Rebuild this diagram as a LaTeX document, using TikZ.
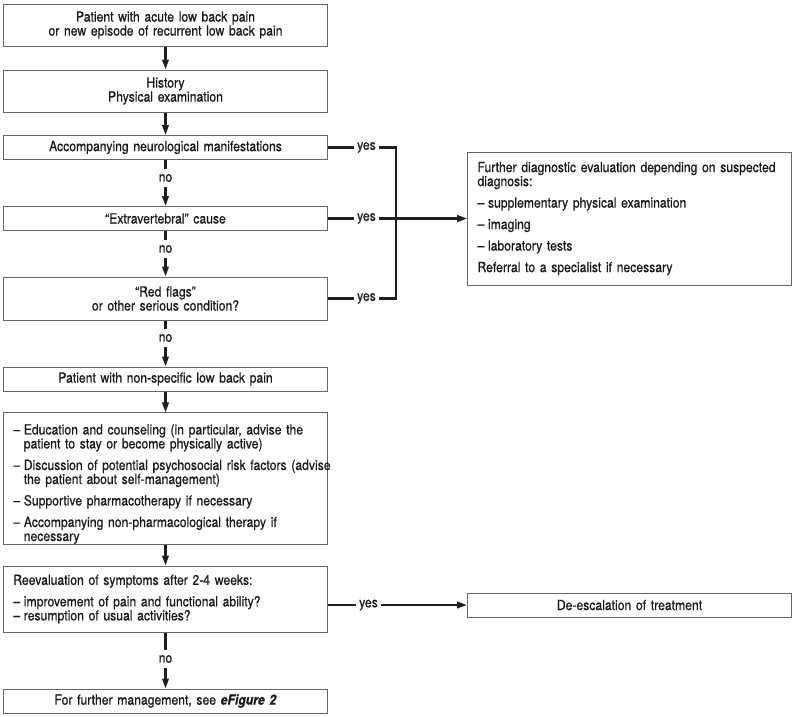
\documentclass[tikz,border=0pt]{standalone}
\usepackage{fontspec}
\setmainfont{TeX Gyre Heros}[FakeStretch=0.87,FakeBold=0.6]
\usetikzlibrary{arrows.meta}
\newcommand\itm{\par\hangindent=10.5pt\hangafter=1\noindent\makebox[10.5pt][l]{–}}
\newcommand\lpad{\leftskip=9.8pt\rightskip=-8pt plus 2em\hyphenpenalty=10000\parskip=7.5pt\relax}

\begin{document}
\begin{tikzpicture}[x=1pt,y=-1pt,font=\fontsize{14}{14}\selectfont,
box/.style={draw=black!60,line width=1pt,text=black!90,inner xsep=0pt,inner ysep=0pt,text width=324pt,align=center,minimum height=#1},
lbox/.style={box=#1,align=left},
lab/.style={text=black!90,inner xsep=2.5pt,inner ysep=5pt},
conn/.style={draw=black!88,line width=2.2pt},
arr/.style={conn,-{Triangle[length=10pt,width=6.5pt]}}]
\useasboundingbox (0,0) rectangle (797,716);
\node[box=42pt] (pat) at (165.5,25) {Patient with acute low back pain\\or new episode of recurrent low back pain};
\node[box=42pt] (hist) at (165.5,91) {History\\Physical examination};
\node[box=24pt] (neuro) at (165.5,147.5) {Accompanying neurological manifestations};
\node[box=24pt] (extra) at (165.5,218.5) {“Extravertebral” cause};
\node[box=43pt] (flags) at (165.5,298.5) {“Red flags”\\or other serious condition?};
\node[box=24pt] (nonspec) at (165.5,379) {Patient with non-specific low back pain};
\node[lbox=127pt] (edu) at (165.5,478.5) {\lpad
\itm Education and counseling (in particular, advise the\newline patient to stay or become physically active)
\itm Discussion of potential psychosocial risk factors (advise\newline the patient about self-management)
\itm Supportive pharmacotherapy if necessary
\itm Accompanying non-pharmacological therapy if\newline necessary\par};
\node[lbox=66pt] (reeval) at (165.5,599) {\lpad Reevaluation of symptoms after 2-4 weeks:
\itm improvement of pain and functional ability?\par\parskip=0pt
\itm resumption of usual activities?\par};
\node[box=24pt] (more) at (165.5,701) {For further management, see \textbf{\textit{eFigure 2}}};
\node[lbox=133pt] (diag) at (629.7,218.5) {\lpad Further diagnostic evaluation depending on suspected\newline diagnosis:
\itm supplementary physical examination
\itm imaging
\itm laboratory tests\par
Referral to a specialist if necessary\par};
\node[box=24pt] (deesc) at (629.5,605) {De-escalation of treatment};
\node[lab] (no1) at (165.5,178) {no};
\node[lab] (no2) at (165.5,249) {no};
\node[lab] (no3) at (165.5,338) {no};
\node[lab] (no4) at (165.5,659) {no};
\node[lab] (y1) at (366.5,147.5) {yes};
\node[lab] (y2) at (366.5,218.5) {yes};
\node[lab] (y3) at (366.5,298.5) {yes};
\node[lab] (y4) at (368.5,605) {yes};
\coordinate (bar) at (396,218.5);
\draw[arr] (pat) -- (hist);
\draw[arr] (hist) -- (neuro);
\draw[conn] (neuro) -- (no1);
\draw[arr] (no1) -- (extra);
\draw[conn] (extra) -- (no2);
\draw[arr] (no2) -- (flags);
\draw[conn] (flags) -- (no3);
\draw[arr] (no3) -- (nonspec);
\draw[arr] (nonspec) -- (edu);
\draw[arr] (edu) -- (reeval);
\draw[conn] (reeval) -- (no4);
\draw[arr] (no4) -- (more);
\draw[conn] (neuro) -- (y1);
\draw[conn] (extra) -- (y2);
\draw[conn] (flags) -- (y3);
\draw[conn] (y1) -| (bar) |- (y3);
\draw[arr] (y2) -- (diag);
\draw[conn] (reeval.east|-y4) -- (y4);
\draw[arr] (y4) -- (deesc);
\end{tikzpicture}
\end{document}
